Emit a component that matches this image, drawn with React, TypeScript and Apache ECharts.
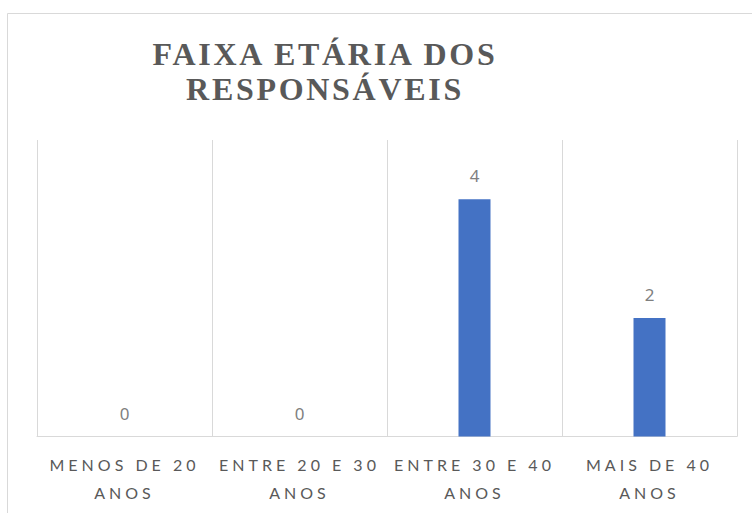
import React, { useEffect, useRef } from "react";
import * as echarts from "echarts";

const categories = ["MENOS DE 20 ANOS", "ENTRE 20 E 30 ANOS", "ENTRE 30 E 40 ANOS", "MAIS DE 40 ANOS"];
const values = [0, 0, 4, 2];
const titleText = "FAIXA ETÁRIA DOS\nRESPONSÁVEIS";

export default function App() {
  const ref = useRef<HTMLDivElement>(null);
  useEffect(() => {
    if (!ref.current) return;
    const chart = echarts.init(ref.current, undefined, { renderer: "svg" });
    chart.setOption({
      animation: false,
      backgroundColor: "#ffffff",
      graphic: [
        {
          type: "rect",
          shape: { x: 7.5, y: 13.5, width: 900, height: 700 },
          style: { fill: "none", stroke: "#d9d9d9", lineWidth: 1 },
          silent: true,
        },
        {
          type: "text",
          x: 325,
          y: 36,
          style: {
            text: titleText,
            fontFamily: "Liberation Serif",
            fontWeight: "bold",
            fontSize: 32,
            lineHeight: 35.5,
            fill: "#595959",
            align: "center",
            verticalAlign: "top",
          },
        },
      ],
      grid: { left: 37, right: 15, top: 140, bottom: 76.5 },
      xAxis: {
        type: "category",
        data: categories,
        axisLine: { lineStyle: { color: "#d9d9d9", width: 1 } },
        axisTick: { show: false },
        splitLine: { show: true, lineStyle: { color: "#d9d9d9", width: 1 } },
        axisLabel: {
          interval: 0,
          margin: 14,
          fontFamily: "Lato",
          fontSize: 16,
          lineHeight: 28,
          color: "#595959",
          formatter: (v: string) => v.replace(/ ANOS$/, "\nANOS"),
        },
      },
      yAxis: {
        type: "value",
        min: 0,
        max: 5,
        interval: 1,
        show: false,
        splitLine: { show: false },
      },
      series: [
        {
          type: "bar",
          data: values,
          barWidth: 32,
          itemStyle: { color: "#4472c4" },
          label: {
            show: true,
            position: "top",
            distance: 15,
            fontFamily: "Noto Sans",
            fontSize: 17,
            color: "#7f7f7f",
          },
        },
      ],
    });
    return () => chart.dispose();
  }, []);
  return (
    <>
      <style>{`body{margin:0} text[style*="Liberation Serif"]{letter-spacing:2.7px} text[style*="Lato"]{letter-spacing:4px}`}</style>
      <div ref={ref} style={{ width: 752, height: 513 }} />
    </>
  );
}
